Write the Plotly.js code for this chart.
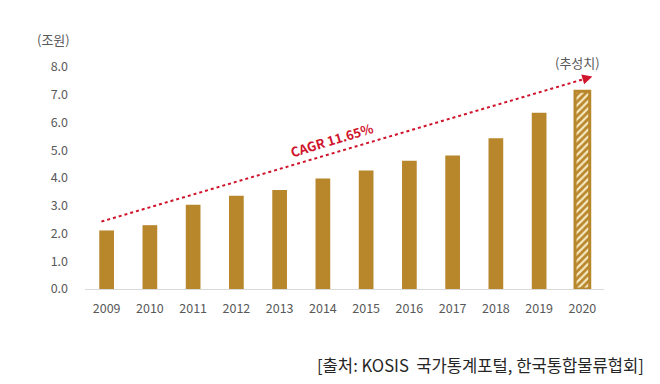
<!DOCTYPE html>
<html><head><meta charset="utf-8">
<script src="https://cdn.plot.ly/plotly-3.0.1.min.js"></script>
<style>html,body{margin:0;padding:0;background:#fff}#chart{width:660px;height:384px}</style>
</head><body><div id="chart"></div>
<script>
const years = ['2009','2010','2011','2012','2013','2014','2015','2016','2017','2018','2019','2020'];
const values = [2.11, 2.30, 3.04, 3.36, 3.57, 3.98, 4.27, 4.62, 4.81, 5.43, 6.35, 7.13];
const estimated = [false,false,false,false,false,false,false,false,false,false,false,true];
const yTicks = [0,1,2,3,4,5,6,7,8];
const unitLabel = '(조원)';
const estLabel = '(추성치)';
const cagrLabel = 'CAGR 11.65%';
const sourceLabel = '[출처: KOSIS  국가통계포털, 한국통합물류협회]';
const trendStart = [-0.12, 2.43];
const trendEnd = [11.18, 7.63];

const gold = '#b8862b';
const cream = '#f6e9c2';
const red = '#d0142c';
const font = '"Noto Sans CJK KR", "Noto Sans", sans-serif';

const trace = {
  type: 'bar',
  x: years,
  y: values,
  width: 0.34,
  marker: {
    color: gold,
    line: {color: gold, width: estimated.map(e => e ? 3 : 0)},
    pattern: {
      shape: estimated.map(e => e ? '/' : ''),
      fgcolor: cream,
      bgcolor: gold,
      size: 5,
      solidity: 0.45,
      fillmode: 'replace'
    }
  },
  hoverinfo: 'none'
};

const layout = {
  width: 660, height: 384,
  margin: {l: 85, r: 56, t: 67, b: 94.5},
  paper_bgcolor: '#fff', plot_bgcolor: '#fff',
  showlegend: false,
  font: {family: font, color: '#595959', size: 12},
  xaxis: {
    type: 'category',
    showgrid: false, zeroline: false,
    showline: true, linecolor: '#d9d9d9', linewidth: 1,
    ticks: '', tickfont: {size: 12.5, color: '#595959', family: font},
    ticklabelstandoff: 8,
    range: [-0.5, 11.5], fixedrange: true
  },
  yaxis: {
    range: [0, 8], tickvals: yTicks, tickformat: '.1f',
    showgrid: false, zeroline: false, showline: false,
    ticks: '', tickfont: {size: 12.5, color: '#595959', family: font},
    ticklabelstandoff: 16, fixedrange: true
  },
  shapes: [{
    type: 'line', xref: 'x', yref: 'y',
    x0: trendStart[0], y0: trendStart[1], x1: trendEnd[0], y1: trendEnd[1],
    line: {color: red, width: 2, dash: 'dot'}
  }],
  annotations: [
    {
      xref: 'x', yref: 'y', axref: 'x', ayref: 'y',
      x: trendEnd[0] + 0.05, y: trendEnd[1] + 0.025,
      ax: trendEnd[0] - 0.2, ay: trendEnd[1] - 0.09,
      text: '', showarrow: true, arrowhead: 2, arrowsize: 1, arrowwidth: 2,
      arrowcolor: red
    },
    {
      xref: 'x', yref: 'y', x: 5.22, y: 5.4,
      text: '<b>' + cagrLabel + '</b>', showarrow: false, textangle: -17,
      font: {family: font, size: 13, color: red}
    },
    {
      xref: 'paper', yref: 'paper', x: 0.948, y: 1.02, xanchor: 'center', yanchor: 'middle',
      text: estLabel, showarrow: false,
      font: {family: font, size: 13, color: '#595959'}
    },
    {
      xref: 'paper', yref: 'paper', x: -0.061, y: 1.126, xanchor: 'center', yanchor: 'middle',
      text: unitLabel, showarrow: false,
      font: {family: font, size: 13, color: '#595959'}
    },
    {
      xref: 'paper', yref: 'paper', x: 1.08, y: -0.344, xanchor: 'right', yanchor: 'middle',
      text: sourceLabel, showarrow: false,
      font: {family: font, size: 16.6, color: '#262626'}
    }
  ]
};

Plotly.newPlot('chart', [trace], layout, {staticPlot: true, displayModeBar: false});
</script>
</body></html>
